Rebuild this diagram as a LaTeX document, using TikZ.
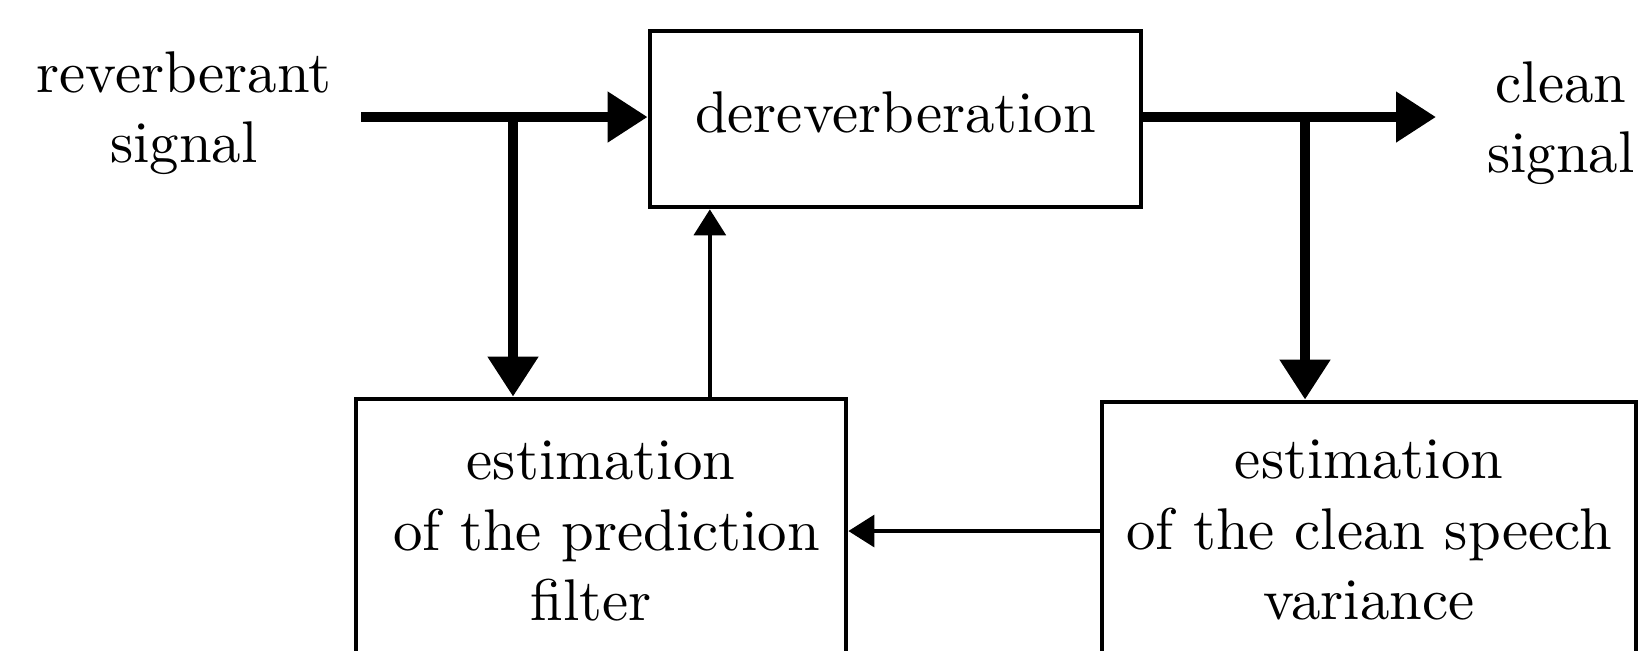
\documentclass[tikz,border=0pt]{standalone}
\usetikzlibrary{arrows.meta}
\begin{document}
\begin{tikzpicture}[x=0.17pt,y=-0.17pt,
  block/.style={draw, line width=0.8pt, inner sep=0pt, align=center},
  mainflow/.style={line width=1.85pt, -{Triangle[length=6.8pt,width=8.2pt]}},
  sideflow/.style={line width=0.6pt, -{Triangle[length=4.4pt,width=5.4pt]}},
  lbl/.style={align=center, inner sep=0pt}]
\useasboundingbox (0,0) rectangle (1641,650);
\clip (0,0) rectangle (1641,650);

% processing blocks
\node[block, minimum width=0.17*491pt, minimum height=0.17*176pt, text depth=2.2pt]
  (derev) at (895.5,119) {dereverberation};
\node[block, minimum width=0.17*490pt, minimum height=0.17*264pt]
  (pf) at (601,531) {estimation\\\hspace*{1.9pt}of the prediction\\filter\hspace*{3.4pt}};
\node[block, minimum width=0.17*534pt, minimum height=0.17*256pt]
  (cs) at (1369,530) {estimation\\of the clean speech\\variance};

% input and output labels
\node[lbl] (inlbl) at (184,113) {reverberant\\signal};
\node[lbl] (outlbl) at (1561,123) {clean\\signal};

% signal path
\coordinate (in) at (361,117);
\coordinate (out) at (1436,117);
\coordinate (b1) at (513,117);
\coordinate (b2) at (1305,117);
\draw[mainflow] (in) -- (in -| derev.west);
\draw[mainflow] (derev.east |- out) -- (out);
\draw[mainflow] (b1) -- (b1 |- pf.north);
\draw[mainflow] (b2) -- (b2 |- cs.north);

% feedback paths
\draw[sideflow] ([xshift=18.5pt]pf.north) -- ([xshift=18.5pt]pf.north |- derev.south);
\draw[sideflow] (cs.west |- pf.east) -- (pf.east);
\end{tikzpicture}
\end{document}
